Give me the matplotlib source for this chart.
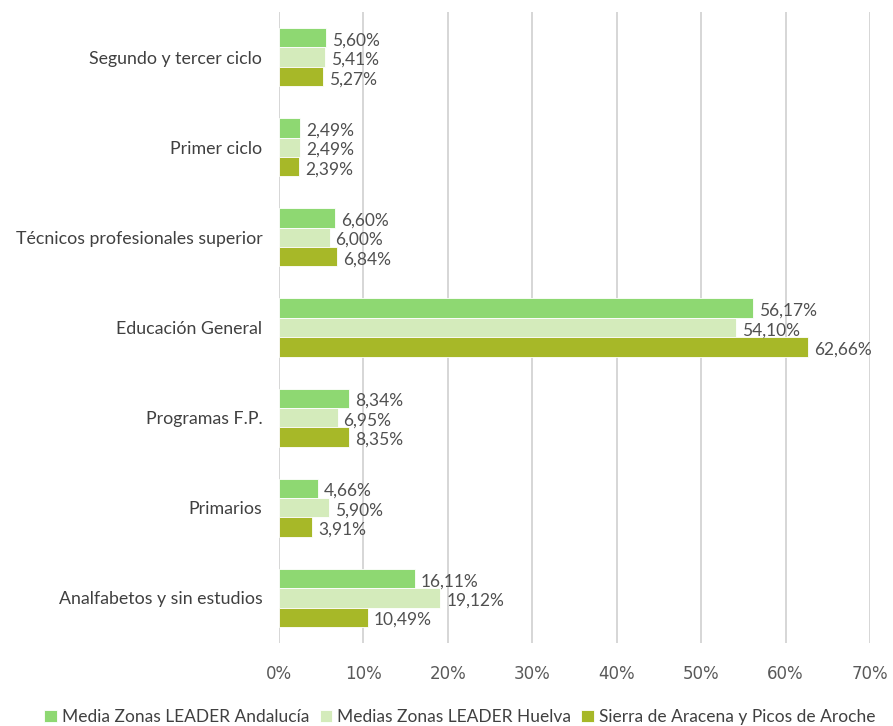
import matplotlib
matplotlib.use("Agg")
import matplotlib.pyplot as plt
import numpy as np

categories = ["Segundo y tercer ciclo", "Primer ciclo", "Técnicos profesionales superior",
              "Educación General", "Programas F.P.", "Primarios", "Analfabetos y sin estudios"]
andalucia = [5.60, 2.49, 6.60, 56.17, 8.34, 4.66, 16.11]
huelva = [5.41, 2.49, 6.00, 54.10, 6.95, 5.90, 19.12]
sierra = [5.27, 2.39, 6.84, 62.66, 8.35, 3.91, 10.49]
series_names = ["Media Zonas LEADER Andalucía", "Medias Zonas LEADER Huelva",
                "Sierra de Aracena y Picos de Aroche"]
colors = ["#8ED872", "#D4EBBB", "#A7B828"]
xticks = [0, 10, 20, 30, 40, 50, 60, 70]

plt.rcParams['font.family'] = ['Lato', 'DejaVu Sans']
fig = plt.figure(figsize=(8.93, 7.26), dpi=100)
ax = fig.add_axes([279/893, 1-643/726, (870-279)/893, (643-12)/726])

n = len(categories)
y = np.arange(n)
h = 0.215
for i, (vals, c, name) in enumerate(zip([andalucia, huelva, sierra], colors, series_names)):
    pos = y + (i - 1) * h
    ax.barh(pos, vals, height=h, color=c, edgecolor="white", linewidth=0.6, label=name, zorder=2)
    for p, v in zip(pos, vals):
        ax.text(v + 0.7, p + 0.03, f"{v:.2f}%".replace(".", ","), va="center", ha="left",
                fontsize=12.5, color="#505050", zorder=3)

ax.set_ylim(n - 0.5, -0.5)
ax.set_xlim(0, 70)
ax.set_xticks(xticks)
ax.set_xticklabels([f"{t}%" for t in xticks], family="DejaVu Sans", fontsize=12, color="#595959")
ax.set_yticks(y)
ax.set_yticklabels(categories, fontsize=12.8, color="#404040")
ax.tick_params(axis="both", length=0)
ax.tick_params(axis="x", pad=16)
ax.tick_params(axis="y", pad=12)
for s in ax.spines.values():
    s.set_visible(False)
ax.grid(axis="x", color="#D0D0D0", linewidth=1.2, zorder=0)
ax.set_axisbelow(True)

fig.legend(*ax.get_legend_handles_labels(), loc="center", bbox_to_anchor=(0.515, 1-717/726),
           ncol=3, frameon=False, fontsize=12.5, handlelength=0.7, handleheight=0.7,
           handletextpad=0.3, columnspacing=0.6, labelcolor="#404040")

fig.savefig("out.png", dpi=100)
